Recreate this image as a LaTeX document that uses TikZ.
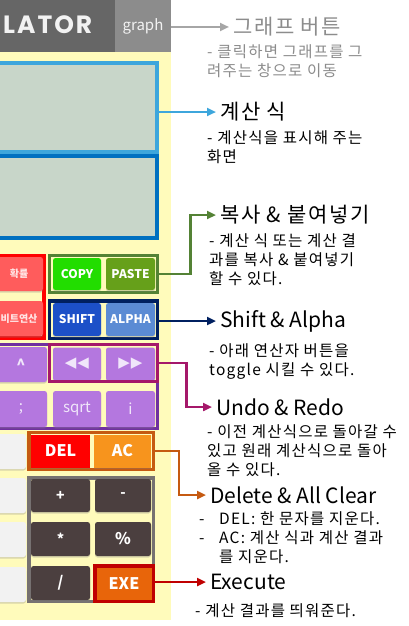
\documentclass[tikz,border=0pt]{standalone}
\usepackage{fontspec}
\setmainfont{Noto Sans CJK KR}
\newfontfamily\symfont{DejaVu Sans}
\newfontfamily\logofont[LetterSpace=8]{Poppins}
\newfontfamily\widefont[LetterSpace=8]{Noto Sans CJK KR}
\usetikzlibrary{positioning,arrows.meta,shadows}
\definecolor{barc}{HTML}{666666}
\definecolor{graphc}{HTML}{8C8C8C}
\definecolor{panelc}{HTML}{FFFBBB}
\definecolor{screenc}{HTML}{C8D6C9}
\definecolor{scronec}{HTML}{3DA6DC}
\definecolor{scrtwoc}{HTML}{0070C0}
\definecolor{probc}{HTML}{FF5C5C}
\definecolor{copyc}{HTML}{22DD00}
\definecolor{pastec}{HTML}{66A01A}
\definecolor{copyline}{HTML}{548235}
\definecolor{shiftc}{HTML}{1C50C8}
\definecolor{alphac}{HTML}{5B8BD4}
\definecolor{shiftline}{HTML}{002060}
\definecolor{purpc}{HTML}{B477DF}
\definecolor{purpline}{HTML}{7030A0}
\definecolor{undoline}{HTML}{A5186A}
\definecolor{acc}{HTML}{F7941D}
\definecolor{delline}{HTML}{C55A11}
\definecolor{opc}{HTML}{4B3F3F}
\definecolor{opline}{HTML}{767171}
\definecolor{exec}{HTML}{E8650A}
\definecolor{exeline}{HTML}{C00000}
\definecolor{numc}{HTML}{F2F2F2}
\definecolor{arrgray}{HTML}{A6A6A6}
\definecolor{lavtext}{HTML}{F0E6FA}
\begin{document}
\begin{tikzpicture}[x=1pt,y=-1pt]
\tikzstyle{grp}=[rectangle, inner sep=0, line width=3.5pt]
\tikzstyle{btn}=[rectangle, rounded corners=2.5pt, inner sep=0, text=white, font=\bfseries\fontsize{12}{12}\selectfont, drop shadow={shadow xshift=0pt, shadow yshift=-1.5pt, opacity=0.3}]
\tikzstyle{connect}=[-{Triangle[length=9pt,width=8pt]}, line width=2.5pt]
\tikzstyle{headtxt}=[anchor=west, inner xsep=4pt, font=\fontsize{21}{24}\selectfont]
\tikzstyle{korhead}=[headtxt, font=\widefont\fontsize{21}{24}\selectfont]
\tikzstyle{notetxt}=[anchor=base west, align=left, inner sep=0, font=\widefont\fontsize{15.5}{19}\selectfont]
\useasboundingbox[fill=white] (0,0) rectangle (408,626);
% calculator body
\node[rectangle, fill=panelc, inner sep=0, minimum width=171pt, minimum height=568pt, anchor=north west] (panel) at (0,52) {};
\node[rectangle, fill=barc, inner sep=0, minimum width=171pt, minimum height=52pt, anchor=north west] (bar) at (0,0) {};
\node[rectangle, fill=graphc, inner sep=0, minimum width=56pt, minimum height=52pt, text=numc, font=\fontsize{15}{15}\selectfont] (graph) at (143,26) {graph};
\node[anchor=west, inner sep=0, text=numc, font=\logofont\bfseries\fontsize{25}{25}\selectfont] (logo) at (3,25) {LATOR};
\node[grp, draw=scronec, line width=4pt, fill=screenc, minimum width=167pt, minimum height=89pt] (scr1) at (73.5,107.5) {};
\node[grp, draw=scrtwoc, line width=4pt, fill=screenc, minimum width=167pt, minimum height=82pt] (scr2) at (73.5,197) {};
% left red keys
\node[grp, draw=red, line width=4pt, minimum width=54pt, minimum height=82pt] (probgrp) at (17,297) {};
\node[btn, fill=probc, text=red!10, font=\bfseries\fontsize{10}{10}\selectfont, minimum width=48pt, minimum height=34pt] (prob) at (19,274) {확률};
\node[btn, fill=probc, text=red!10, font=\bfseries\fontsize{10}{10}\selectfont, minimum width=48pt, minimum height=35pt] (bit) at (19,318.5) {비트연산};
% copy & shift
\node[grp, draw=copyline, minimum width=108pt, minimum height=37pt] (copygrp) at (103.5,274) {};
\node[btn, fill=copyc, minimum width=48pt, minimum height=32pt] (copy) at (77,274) {COPY};
\node[btn, fill=pastec, minimum width=49pt, minimum height=32pt] (paste) at (130.5,274) {PASTE};
\node[grp, draw=shiftline, minimum width=108pt, minimum height=37.5pt] (shiftgrp) at (103.5,319.5) {};
\node[btn, fill=shiftc, minimum width=48pt, minimum height=33pt] (shift) at (77,319.5) {SHIFT};
\node[btn, fill=alphac, minimum width=49pt, minimum height=33pt] (alpha) at (130.5,319.5) {ALPHA};
% purple keys
\node[grp, draw=purpline, line width=3pt, minimum width=167.5pt, minimum height=84pt] (purpgrp) at (73.75,386.5) {};
\node[btn, fill=purpc, text=lavtext, font=\bfseries\fontsize{15}{15}\selectfont, minimum width=52pt, minimum height=35pt] (pow) at (21,364.5) {\^{}};
\node[btn, fill=purpc, text=lavtext, font=\symfont\fontsize{15}{15}\selectfont, minimum width=48pt, minimum height=33pt] (undo) at (77,364) {◀\kern1pt◀};
\node[btn, fill=purpc, text=lavtext, font=\symfont\fontsize{15}{15}\selectfont, minimum width=49pt, minimum height=33pt] (redo) at (130.5,364) {▶\kern1pt▶};
\node[btn, fill=purpc, text=lavtext, font=\fontsize{15}{15}\selectfont, minimum width=52pt, minimum height=36pt] (semi) at (21,409) {;};
\node[btn, fill=purpc, text=lavtext, font=\fontsize{15}{15}\selectfont, minimum width=48pt, minimum height=36pt] (sqrt) at (77,409) {sqrt};
\node[btn, fill=purpc, text=lavtext, font=\fontsize{15}{15}\selectfont, minimum width=49pt, minimum height=36pt] (imag) at (130.5,409) {i};
\node[grp, draw=undoline, minimum width=108pt, minimum height=37pt] (undogrp) at (103.5,363) {};
% white keys
\foreach \y [count=\i] in {451.5,495.5,539.5,584.5}
  \node[btn, fill=numc, minimum width=31pt, minimum height=35pt] (num\i) at (10.5,\y) {};
% del / ac and operators
\node[grp, draw=delline, minimum width=124.5pt, minimum height=37pt] (delgrp) at (91,451) {};
\node[btn, rounded corners=0pt, fill=red, font=\bfseries\fontsize{16}{16}\selectfont, minimum width=59pt, minimum height=33pt] (del) at (60.5,451) {DEL};
\node[btn, rounded corners=0pt, fill=acc, font=\bfseries\fontsize{16}{16}\selectfont, minimum width=57pt, minimum height=33pt] (ac) at (122.5,451) {AC};
\node[grp, draw=opline, minimum width=124.5pt, minimum height=123.5pt] (opgrp) at (91,539.5) {};
\node[btn, fill=opc, font=\bfseries\fontsize{14}{14}\selectfont, minimum width=59pt, minimum height=33pt] (plus) at (60.5,495.5) {+};
\node[btn, fill=opc, font=\bfseries\fontsize{14}{14}\selectfont, minimum width=56pt, minimum height=33pt] (minus) at (123,495.5) {-};
\node[btn, fill=opc, font=\bfseries\fontsize{14}{14}\selectfont, minimum width=59pt, minimum height=34pt] (times) at (60.5,539) {*};
\node[btn, fill=opc, font=\bfseries\fontsize{16}{16}\selectfont, minimum width=56pt, minimum height=34pt] (mod) at (123,539) {\%};
\node[btn, fill=opc, font=\bfseries\fontsize{15}{15}\selectfont, minimum width=59pt, minimum height=34pt] (div) at (60.5,583) {/};
\node[grp, draw=exeline, fill=exec, text=white, font=\bfseries\fontsize{16}{16}\selectfont, minimum width=58.5pt, minimum height=35.5pt] (exegrp) at (124,583.5) {EXE};
% labels
\node[korhead, text=graphc] (gtitle) at (229,27) {그래프 버튼};
\node[notetxt, text=graphc] (gnote) at (207,77) {- 클릭하면 그래프를 그\\려주는 창으로 이동};
\node[korhead] (ctitle) at (216,112) {계산 식};
\node[notetxt] (cnote) at (207,162) {- 계산식을 표시해 주는\\화면};
\node[korhead] (ptitle) at (216,215) {복사 \& 붙여넣기};
\node[notetxt] (pnote) at (209,284) {- 계산 식 또는 계산 결\\과를 복사 \& 붙여넣기\\할 수 있다.};
\node[headtxt] (stitle) at (216,321) {Shift \& Alpha};
\node[notetxt] (snote) at (209,375) {- 아래 연산자 버튼을\\toggle 시킬 수 있다.};
\node[headtxt] (utitle) at (212,407) {Undo \& Redo};
\node[notetxt] (unote) at (207,475) {- 이전 계산식으로 돌아갈 수\\있고 원래 계산식으로 돌아\\올 수 있다.};
\node[headtxt] (dtitle) at (206,495) {Delete \& All Clear};
\node[notetxt] (dnote) at (199,562) {\makebox[20pt][l]{-}DEL: 한 문자를 지운다.\\\makebox[20pt][l]{-}AC: 계산 식과 계산 결과\\\hspace*{20pt}를 지운다.};
\node[headtxt] (etitle) at (206,582) {Execute};
\node[notetxt] (enote) at (195,616) {- 계산 결과를 띄워준다.};
% arrows
\draw[connect, arrgray] (gtitle.west -| graph.east) -- (gtitle.west);
\draw[connect, scronec] (ctitle.west -| scr1.east) -- (ctitle.west);
\draw[connect, copyline] (copygrp.east) -- ++(31,0) |- (ptitle.west);
\draw[connect, shiftline] (stitle.west -| shiftgrp.east) -- (stitle.west);
\draw[connect, undoline] (undogrp.east) -- ++(27,0) |- (utitle.west);
\draw[connect, delline] (delgrp.east) -- ++(24,0) |- (dtitle.west);
\draw[connect, exeline] (etitle.west -| exegrp.east) -- (etitle.west);
\end{tikzpicture}
\end{document}
